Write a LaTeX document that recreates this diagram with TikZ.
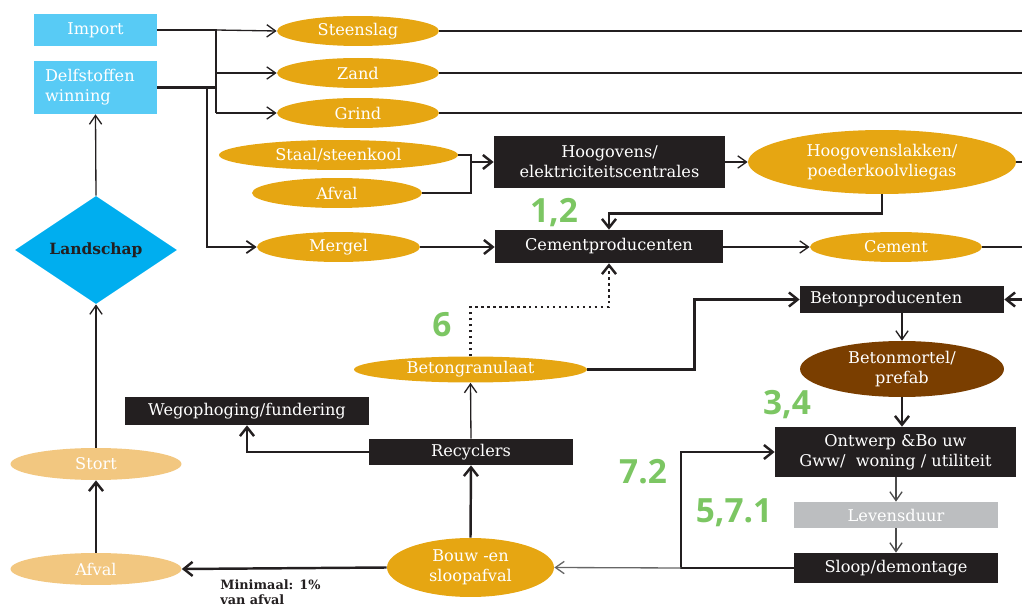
\documentclass[tikz,border=0pt]{standalone}
\usepackage{fontspec}
\setmainfont{DejaVu Serif}
\newfontfamily\numfont{Open Sans}
\usepackage{tikz}
\usetikzlibrary{shapes, positioning, calc, arrows.meta}

\definecolor{hemel}{RGB}{88,203,245}
\definecolor{landblauw}{RGB}{0,174,239}
\definecolor{stoforanje}{RGB}{230,166,18}
\definecolor{lichtoranje}{RGB}{242,199,128}
\definecolor{bruin}{RGB}{122,62,0}
\definecolor{blokzwart}{RGB}{35,31,32}
\definecolor{grijs}{RGB}{188,190,192}
\definecolor{stapgroen}{RGB}{124,198,99}

\tikzset{
  lbl/.style={font=\fontsize{9.2}{11.5}\selectfont, text=white, inner sep=0pt, align=center},
  stof/.style={lbl, ellipse, fill=stoforanje},
  blok/.style={lbl, rectangle, fill=blokzwart},
  lijn/.style={draw=blokzwart, line width=0.75pt},
  diklijn/.style={draw=blokzwart, line width=1.4pt},
  pijl/.style={lijn, -{Straight Barb[length=5pt,width=7pt]}},
  dikpijl/.style={diklijn, -{Straight Barb[length=5pt,width=8pt,line width=1.4pt]}},
  stippel/.style={dikpijl, dotted},
  stap/.style={font=\numfont\bfseries\fontsize{19}{19}\selectfont, text=stapgroen, inner sep=0pt},
}

\begin{document}
\begin{tikzpicture}[x=0.02cm, y=-0.02cm]
\useasboundingbox (0,0) rectangle (1022,611);

\node[blok, fill=hemel, minimum width=2.46cm, minimum height=0.64cm] (import) at (95.5,30) {Import};
\node[blok, fill=hemel, minimum width=2.46cm, minimum height=1.06cm, align=left, text width=2.02cm] (delf) at (95.5,87.5) {Delfstoffen\\winning};
\node[diamond, fill=landblauw, minimum width=3.24cm, minimum height=1.92cm, inner sep=0pt, text=blokzwart, font=\bfseries\fontsize{8.8}{10}\selectfont] (land) at (96,250) {Landschap};
\node[stof, fill=lichtoranje, minimum width=3.42cm, minimum height=0.64cm] (stort) at (96,464) {Stort};
\node[stof, fill=lichtoranje, minimum width=3.42cm, minimum height=0.64cm] (afvalb) at (96,569) {Afval};

\foreach \naam/\tekst/\y in {steen/Steenslag/31, zand/Zand/73, grind/Grind/113}
{
  \node[stof, minimum width=3.24cm, minimum height=0.6cm] (\naam) at (358,\y) {\tekst};
  \coordinate (\naam-uit) at (1022,\y);
  \draw[diklijn] (\naam.east) -- (\naam-uit);
}

\node[stof, minimum width=4.78cm, minimum height=0.6cm] (staal) at (338.5,155) {Staal/steenkool};
\node[stof, minimum width=3.4cm, minimum height=0.6cm] (afvalt) at (337,193) {Afval};
\node[stof, minimum width=3.26cm, minimum height=0.6cm] (mergel) at (338.5,247) {Mergel};

\node[blok, minimum width=4.62cm, minimum height=1.04cm] (hoog) at (609.5,162) {Hoogovens/\\elektriciteitscentrales};
\node[stof, minimum width=5.36cm, minimum height=1.28cm] (slak) at (882,162) {Hoogovenslakken/\\poederkoolvliegas};
\node[blok, minimum width=4.56cm, minimum height=0.66cm] (cemprod) at (609,246.5) {Cementproducenten};
\node[stof, minimum width=3.44cm, minimum height=0.6cm] (cement) at (896,247) {Cement};

\node[blok, minimum width=4.08cm, minimum height=0.54cm, align=left, text width=3.68cm] (betprod) at (902,299.5) {Betonproducenten};
\node[stof, fill=bruin, minimum width=4.08cm, minimum height=1.12cm] (mortel) at (902,369) {Betonmortel/\\prefab};
\node[blok, minimum width=4.82cm, minimum height=1.0cm] (ontwerp) at (895.5,452) {Ontwerp \&Bo uw\\Gww/\ \ woning / utiliteit};
\node[blok, fill=grijs, minimum width=4.08cm, minimum height=0.52cm] (levens) at (896,515) {Levensduur};
\node[blok, minimum width=4.08cm, minimum height=0.6cm] (sloop) at (896,568) {Sloop/demontage};

\node[stof, minimum width=4.66cm, minimum height=0.52cm] (granu) at (470.5,369.5) {Betongranulaat};
\node[blok, minimum width=4.88cm, minimum height=0.56cm] (wegop) at (247,411) {Wegophoging/fundering};
\node[blok, minimum width=4.08cm, minimum height=0.52cm] (recycl) at (471,452) {Recyclers};
\node[stof, minimum width=3.34cm, minimum height=1.18cm] (bouw) at (470.5,567.5) {Bouw -en\\sloopafval};

\node[stap] (s12) at (554,213) {1,2};
\node[stap] (s6) at (442,325) {6};
\node[stap] (s34) at (787,405) {3,4};
\node[stap] (s72) at (643,472) {7.2};
\node[stap] (s571) at (734,513) {5,7.1};
\node[anchor=north west, align=left, inner sep=0pt, text=blokzwart, font=\bfseries\fontsize{7.3}{9}\selectfont] (minimaal) at (220,579) {Minimaal: 1\%\\van afval};

\coordinate (split) at (216,30);
\coordinate (tak) at (207,88);
\coordinate (samen) at (471,162);
\coordinate (slak-uit) at (1022,162);
\coordinate (cement-uit) at (1022,247);
\coordinate (betprod-in) at (1022,299.5);
\coordinate (lus) at (681,568);

\draw[lijn] (import.east) -- (split) -- (split |- grind);
\draw[pijl] (split) -- (steen.west);
\draw[pijl] (split |- zand) -- (zand.west);
\draw[pijl] (split |- grind) -- (grind.west);
\draw[diklijn] (delf.east) -- (split |- delf.east);
\draw[pijl, line width=1pt] (tak) |- (mergel.west);
\draw[dikpijl] (mergel.east) -- (mergel.east -| cemprod.west);

\draw[diklijn] (staal.east) -| (samen |- afvalt) -- (afvalt.east);
\draw[dikpijl] (samen) -- (hoog.west);
\draw[pijl] (hoog.east) -- (slak.west);
\draw[diklijn] (slak.east) -- (slak-uit);
\draw[dikpijl] (slak.south) -- ++(0,19) -| (cemprod.north);
\draw[pijl] (cemprod.east |- cement) -- (cement.west);
\draw[diklijn] (cement.east) -- (cement-uit);

\draw[stippel] (granu.north) -- ++(0,-49) -| (cemprod.south);
\draw[dikpijl] (granu.east) -- ++(107,0) |- (betprod.west);
\draw[dikpijl] (betprod-in) -- (betprod.east);
\draw[pijl] (betprod.south -| mortel.north) -- (mortel.north);
\draw[dikpijl] (mortel.south) -- (mortel.south |- ontwerp.north);
\draw[pijl, draw=black!70] (levens.north |- ontwerp.south) -- (levens.north);
\draw[pijl, draw=black!70] (levens.south) -- (sloop.north);

\draw[dikpijl] (sloop.west) -- (lus) |- (ontwerp.west);
\draw[pijl, draw=black!60] (lus) -- (bouw.east);
\draw[dikpijl] (bouw.north) -- (recycl.south);
\draw[pijl] (recycl.north) -- (granu.south);
\draw[dikpijl] (recycl.west) -| (wegop.south);
\draw[dikpijl] (bouw.west) -- (afvalb.east);

\draw[dikpijl] (afvalb.north) -- (stort.south);
\draw[pijl] (stort.north) -- (land.south);
\draw[pijl] (land.north) -- (delf.south);
\end{tikzpicture}
\end{document}
